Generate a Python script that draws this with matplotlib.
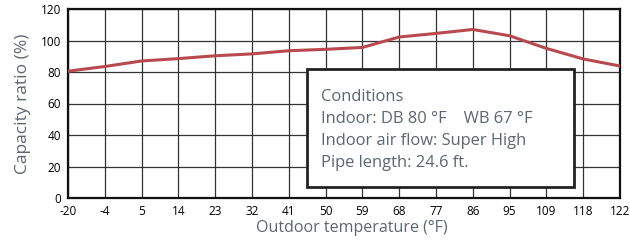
import matplotlib
matplotlib.use("Agg")
import matplotlib.pyplot as plt
from matplotlib.patches import Rectangle

categories = ["-20", "-4", "5", "14", "23", "32", "41", "50", "59", "68", "77", "86", "95", "109", "118", "122"]
capacity = [80.5, 83.5, 87, 88.5, 90.3, 91.5, 93.5, 94.4, 95.6, 102.2, 104.5, 107, 103, 95, 88.3, 83.8]
yticks = [0, 20, 40, 60, 80, 100, 120]
cond_lines = ["Conditions", "Indoor: DB 80 °F    WB 67 °F", "Indoor air flow: Super High", "Pipe length: 24.6 ft."]

plt.rcParams['font.family'] = ['Open Sans', 'DejaVu Sans']
fig = plt.figure(figsize=(6.3, 2.4), dpi=100)
ax = fig.add_axes([0.108, 0.175, 0.876, 0.7875])
x = list(range(len(categories)))
ax.set_xlim(0, len(categories) - 1)
ax.set_ylim(0, 120)
ax.set_xticks(x)
ax.set_xticklabels(categories, fontsize=8.5)
ax.set_yticks(yticks)
ax.set_yticklabels([str(v) for v in yticks], fontsize=8.5)
ax.tick_params(length=0, pad=5)
ax.grid(True, color="#333333", linewidth=0.9)
ax.set_axisbelow(True)
for s in ax.spines.values():
    s.set_linewidth(1.6)
    s.set_color("#111111")
ax.plot(x, capacity, color="#b8494f", linewidth=2.2, zorder=3)

grey = "#5d6670"
ax.set_xlabel("Outdoor temperature (°F)", fontsize=11.5, color=grey, labelpad=1)
ax.xaxis.set_label_coords(0.515, -0.115)
ax.set_ylabel("Capacity ratio (%)", fontsize=12.5, color=grey, labelpad=7)

rect = Rectangle((0.433, 0.058), 0.484, 0.625, transform=ax.transAxes,
                 facecolor="white", edgecolor="#222222", linewidth=2.0, zorder=4)
ax.add_patch(rect)
ys = [0.535, 0.418, 0.302, 0.187]
for t, yy in zip(cond_lines, ys):
    ax.text(0.458, yy, t, transform=ax.transAxes, fontsize=11.9, color=grey,
            va="center", ha="left", zorder=5)

fig.savefig("out.png", dpi=100)
